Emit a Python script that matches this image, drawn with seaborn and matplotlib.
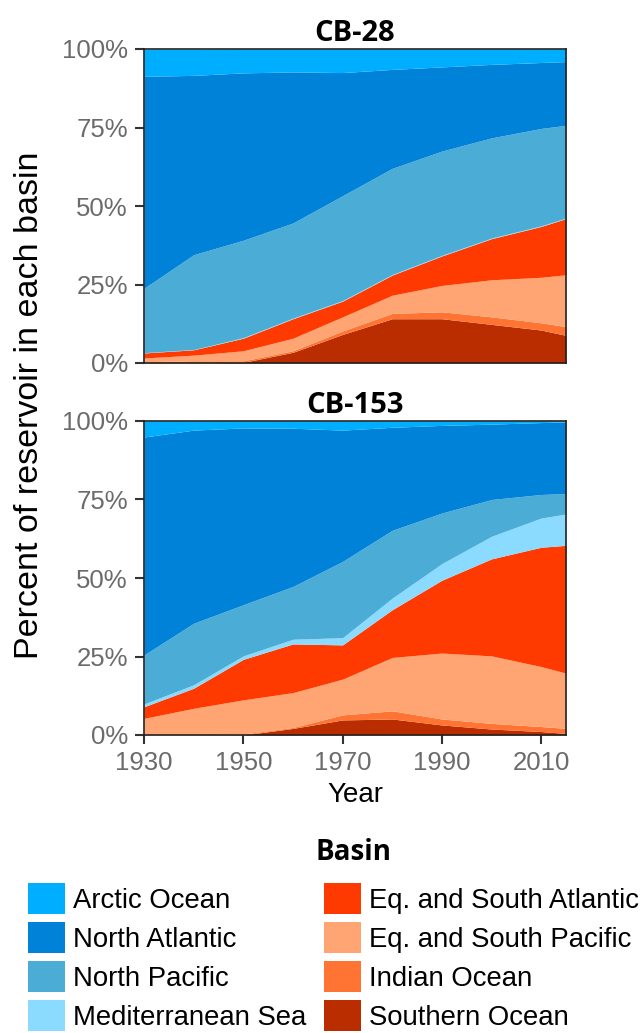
import matplotlib
matplotlib.use("Agg")
import matplotlib.pyplot as plt
import seaborn as sns
from matplotlib.patches import Patch
from matplotlib.ticker import PercentFormatter

years = [1930, 1940, 1950, 1960, 1970, 1980, 1990, 2000, 2010, 2015]

# order in the legend (top of stack first)
basins = ["Arctic Ocean", "North Atlantic", "North Pacific", "Mediterranean Sea",
          "Eq. and South Atlantic", "Eq. and South Pacific", "Indian Ocean", "Southern Ocean"]
colors = ["#00AEFF", "#0082D9", "#4BACD6", "#8BDAFF",
          "#FF3A00", "#FFA473", "#FF7433", "#B92D00"]

# CB-28, percent of reservoir per basin
cb28_arctic = [8.6, 8.3, 7.6, 7.3, 7.5, 6.5, 5.7, 4.9, 4.3, 4.0]
cb28_natl = [67.5, 57.1, 53.3, 48.1, 39.2, 31.5, 26.8, 23.4, 21.0, 20.3]
cb28_npac = [20.5, 30.2, 31.0, 30.3, 33.4, 33.8, 33.2, 31.9, 31.0, 29.5]
cb28_med = [0.1, 0.1, 0.2, 0.2, 0.2, 0.2, 0.2, 0.2, 0.2, 0.2]
cb28_eqatl = [1.6, 1.7, 4.0, 6.2, 5.0, 6.4, 9.4, 13.1, 16.2, 17.9]
cb28_eqpac = [1.2, 1.8, 3.2, 4.0, 4.5, 5.8, 8.4, 11.8, 14.5, 16.5]
cb28_indian = [0.4, 0.7, 0.5, 0.5, 1.1, 1.7, 2.2, 2.4, 2.3, 2.8]
cb28_south = [0.0, 0.0, 0.2, 3.4, 9.1, 14.1, 14.1, 12.3, 10.5, 8.8]

# CB-153
cb153_arctic = [5.1, 2.9, 2.2, 2.3, 2.9, 2.0, 1.4, 1.0, 0.5, 0.3]
cb153_natl = [69.4, 61.5, 56.3, 50.4, 41.8, 32.8, 27.9, 24.0, 22.9, 22.8]
cb153_npac = [15.6, 19.6, 16.3, 16.8, 24.3, 21.6, 16.1, 11.7, 7.5, 6.5]
cb153_med = [0.9, 1.1, 1.1, 1.5, 2.3, 3.7, 5.3, 7.2, 9.3, 10.0]
cb153_eqatl = [3.7, 6.4, 12.9, 15.5, 10.9, 15.2, 23.2, 30.9, 38.0, 40.7]
cb153_eqpac = [5.3, 8.5, 10.9, 11.1, 11.4, 17.0, 21.0, 21.5, 19.1, 17.6]
cb153_indian = [0.0, 0.0, 0.3, 0.3, 1.6, 2.6, 1.9, 1.8, 1.6, 1.6]
cb153_south = [0.0, 0.0, 0.0, 2.1, 4.8, 5.1, 3.2, 1.9, 1.1, 0.5]

panels = [
    ("CB-28", [cb28_arctic, cb28_natl, cb28_npac, cb28_med,
               cb28_eqatl, cb28_eqpac, cb28_indian, cb28_south]),
    ("CB-153", [cb153_arctic, cb153_natl, cb153_npac, cb153_med,
                cb153_eqatl, cb153_eqpac, cb153_indian, cb153_south]),
]

sns.set_theme(style="ticks")
plt.rcParams["font.family"] = ["Liberation Sans", "DejaVu Sans"]
plt.rcParams["text.color"] = "black"
title_font = ["Open Sans", "DejaVu Sans"]
tick_grey = "#6b6b6b"

W, H = 644, 1033
fig = plt.figure(figsize=(W / 100, H / 100), dpi=100)

# panel boxes in pixels: (left, top, right, bottom)
boxes = [(144, 49, 566, 363), (144, 421, 566, 735)]

for i, ((name, series), (l, t, r, b)) in enumerate(zip(panels, boxes)):
    ax = fig.add_axes([l / W, 1 - b / H, (r - l) / W, (b - t) / H])
    # stack from the bottom (Southern Ocean) upwards
    ax.stackplot(years, [s for s in series[::-1]], colors=colors[::-1], linewidth=0)
    ax.set_xlim(1930, 2015)
    ax.set_ylim(0, 100)
    ax.set_yticks([0, 25, 50, 75, 100])
    ax.yaxis.set_major_formatter(PercentFormatter(decimals=0))
    ax.set_xticks([1930, 1950, 1970, 1990, 2010])
    ax.tick_params(axis="both", labelsize=18.5, colors="#333333", labelcolor=tick_grey,
                   length=6.5, width=1.5, pad=5)
    if i == 0:
        ax.tick_params(axis="x", bottom=False, labelbottom=False)
    for sp in ax.spines.values():
        sp.set_visible(True)
        sp.set_color("#222222")
        sp.set_linewidth(1.2)
    ax.set_title(name, fontsize=21, fontweight="bold", family=title_font, pad=6,
                 color="black")

fig.text(30 / W, 1 - 405 / H, "Percent of reservoir in each basin", rotation=90,
         ha="center", va="center", fontsize=24.5, color="black")
fig.text(355 / W, 1 - 795 / H, "Year", ha="center", va="center", fontsize=20,
         color="black")

# legend
fig.text(353 / W, 1 - 853 / H, "Basin", ha="center", va="center", fontsize=20,
         fontweight="bold", family=title_font, color="black")
handles = [Patch(facecolor=c, edgecolor="none", label=n) for n, c in zip(basins, colors)]
leg = fig.legend(handles=handles, loc="upper left", bbox_to_anchor=(28 / W, 1 - 883 / H),
                 ncol=2, frameon=False, fontsize=19.8, borderaxespad=0, borderpad=0,
                 handlelength=1.35, handleheight=1.35, handletextpad=0.3,
                 labelspacing=0.3, columnspacing=0.62)
for txt in leg.get_texts():
    txt.set_color("black")

fig.savefig("out.png", dpi=100)
